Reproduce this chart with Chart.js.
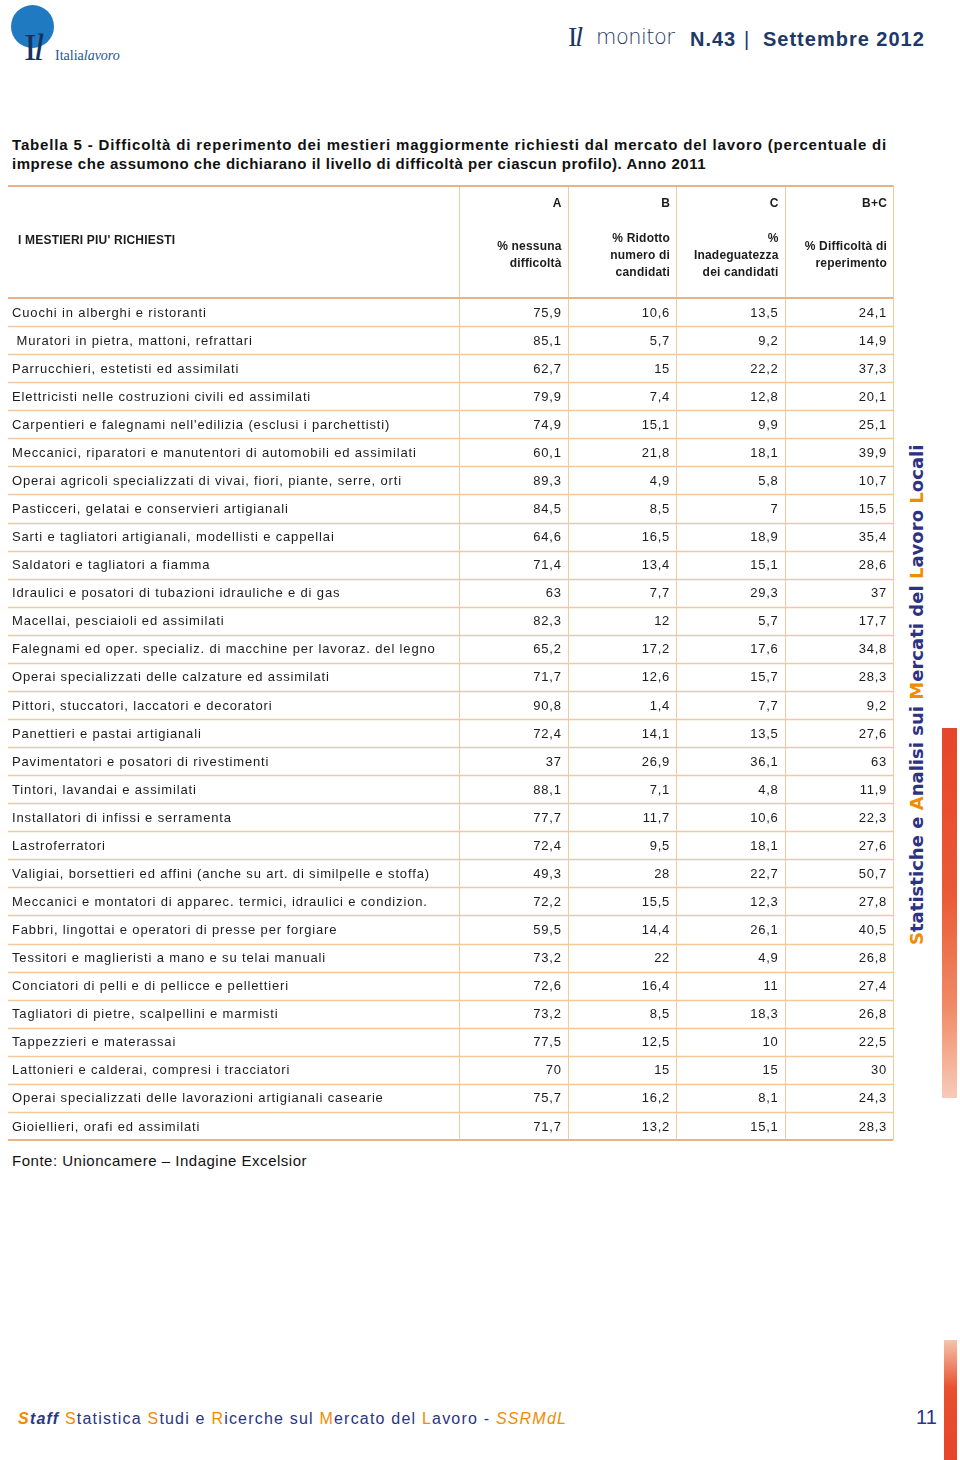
<!DOCTYPE html>
<html>
<head>
<meta charset="utf-8">
<script src="https://cdn.jsdelivr.net/npm/chart.js@4/dist/chart.umd.min.js"></script>
<style>
  body { margin: 0; background: #fff; font-family: "Liberation Sans", Arial, sans-serif; color: #222; }
  #page { position: relative; width: 960px; height: 1460px; overflow: hidden; }
  .abs { position: absolute; white-space: nowrap; }
  .fit { display: inline-block; }
  #tableBox { position: absolute; left: 0; top: 185px; width: 900px; height: 960px; }
</style>
</head>
<body>
<div id="page">
  <!-- logo -->
  <div class="abs" style="left:11px;top:5px;width:43px;height:43px;border-radius:50%;background:#1f7ac2;"></div>
  <div class="abs" style="left:24px;top:27px;font:38px 'Liberation Serif',serif;color:#17325f;letter-spacing:-3px;line-height:40px;">I<i>l</i></div>
  <div class="abs" style="left:55px;top:48px;font:14px 'Liberation Serif',serif;color:#24578f;">Italia<i>lavoro</i></div>

  <!-- header right -->
  <div class="abs" style="left:568px;top:22px;font:28px 'Liberation Serif',serif;color:#1d3564;letter-spacing:-2px;line-height:30px;">I<i>l</i></div>
  <div class="abs" style="left:596px;top:24px;font:22px 'DejaVu Sans',sans-serif;color:#1d3564;font-weight:300;letter-spacing:-0.5px;transform:scaleX(0.95);transform-origin:left;">monitor</div>
  <div class="abs" style="left:690px;top:28px;font:bold 20px 'Liberation Sans',Arial,sans-serif;color:#1e3868;letter-spacing:1px;">N.43</div>
  <div class="abs" style="left:744px;top:28px;font:20px 'Liberation Sans',Arial,sans-serif;color:#1e3868;">|</div>
  <div class="abs" style="left:763px;top:28px;font:bold 20px 'Liberation Sans',Arial,sans-serif;color:#1e3868;"><span class="fit" data-fit="162">Settembre 2012</span></div>

  <!-- title -->
  <div class="abs" style="left:12px;top:136px;font:bold 15px 'Liberation Sans',Arial,sans-serif;color:#111;"><span class="fit" data-fit="875">Tabella 5 - Difficoltà di reperimento dei mestieri maggiormente richiesti dal mercato del lavoro (percentuale di</span></div>
  <div class="abs" style="left:12px;top:155px;font:bold 15px 'Liberation Sans',Arial,sans-serif;color:#111;"><span class="fit" data-fit="694">imprese che assumono che dichiarano il livello di difficoltà per ciascun profilo). Anno 2011</span></div>

  <div id="tableBox"><canvas id="tbl"></canvas></div>

  <div class="abs" style="left:12px;top:1152px;font:15px 'Liberation Sans',Arial,sans-serif;color:#111;"><span class="fit" data-fit="295">Fonte: Unioncamere – Indagine Excelsior</span></div>

  <!-- side decoration -->
  <div class="abs" style="left:668px;top:683px;width:500px;height:24px;line-height:24px;text-align:center;transform:rotate(-90deg);font:bold 18px 'DejaVu Sans',sans-serif;color:#2d3282;"><span class="fit" data-fit="500"><span style="color:#f08c00">S</span>tatistiche e <span style="color:#f08c00">A</span>nalisi sui <span style="color:#f08c00">M</span>ercati del <span style="color:#f08c00">L</span>avoro <span style="color:#f08c00">L</span>ocali</span></div>
  <div class="abs" style="left:942px;top:728px;width:15px;height:370px;background:linear-gradient(#e6452a 0%, #ea5a36 45%, #f08a66 75%, #f7cbb8 100%);"></div>
  <div class="abs" style="left:944px;top:1340px;width:13px;height:120px;background:linear-gradient(#f6c4ad, #e8502f 40%, #e6452a);"></div>

  <!-- footer -->
  <div class="abs" style="left:18px;top:1410px;font:16px 'Liberation Sans',Arial,sans-serif;color:#2a3584;"><span class="fit" data-fit="549"><i><b><span style="color:#f08c00">S</span>taff</b></i> <span style="color:#f08c00">S</span>tatistica <span style="color:#f08c00">S</span>tudi e <span style="color:#f08c00">R</span>icerche sul <span style="color:#f08c00">M</span>ercato del <span style="color:#f08c00">L</span>avoro - <i style="color:#f08c00">SSRMdL</i></span></div>
  <div class="abs" style="left:916px;top:1406px;font:20px 'Liberation Sans',Arial,sans-serif;color:#2a3584;">11</div>
</div>

<script>
// rows of the table
const jobs = [
  'Cuochi in alberghi e ristoranti',
  ' Muratori in pietra, mattoni, refrattari',
  'Parrucchieri, estetisti ed assimilati',
  'Elettricisti nelle costruzioni civili ed assimilati',
  "Carpentieri e falegnami nell'edilizia (esclusi i parchettisti)",
  'Meccanici, riparatori e manutentori di automobili ed assimilati',
  'Operai agricoli specializzati di vivai, fiori, piante, serre, orti',
  'Pasticceri, gelatai e conservieri artigianali',
  'Sarti e tagliatori artigianali, modellisti e cappellai',
  'Saldatori e tagliatori a fiamma',
  'Idraulici e posatori di tubazioni idrauliche e di gas',
  'Macellai, pesciaioli ed assimilati',
  'Falegnami ed oper. specializ. di macchine per lavoraz. del legno',
  'Operai specializzati delle calzature ed assimilati',
  'Pittori, stuccatori, laccatori e decoratori',
  'Panettieri e pastai artigianali',
  'Pavimentatori e posatori di rivestimenti',
  'Tintori, lavandai e assimilati',
  'Installatori di infissi e serramenta',
  'Lastroferratori',
  'Valigiai, borsettieri ed affini (anche su art. di similpelle e stoffa)',
  'Meccanici e montatori di apparec. termici, idraulici e condizion.',
  'Fabbri, lingottai e operatori di presse per forgiare',
  'Tessitori e maglieristi a mano e su telai manuali',
  'Conciatori di pelli e di pellicce e pellettieri',
  'Tagliatori di pietre, scalpellini e marmisti',
  'Tappezzieri e materassai',
  'Lattonieri e calderai, compresi i tracciatori',
  'Operai specializzati delle lavorazioni artigianali casearie',
  'Gioiellieri, orafi ed assimilati'
];
const nessuna = [75.9, 85.1, 62.7, 79.9, 74.9, 60.1, 89.3, 84.5, 64.6, 71.4, 63, 82.3, 65.2, 71.7, 90.8, 72.4, 37, 88.1, 77.7, 72.4, 49.3, 72.2, 59.5, 73.2, 72.6, 73.2, 77.5, 70, 75.7, 71.7];
const ridotto = [10.6, 5.7, 15, 7.4, 15.1, 21.8, 4.9, 8.5, 16.5, 13.4, 7.7, 12, 17.2, 12.6, 1.4, 14.1, 26.9, 7.1, 11.7, 9.5, 28, 15.5, 14.4, 22, 16.4, 8.5, 12.5, 15, 16.2, 13.2];
const inadeguatezza = [13.5, 9.2, 22.2, 12.8, 9.9, 18.1, 5.8, 7, 18.9, 15.1, 29.3, 5.7, 17.6, 15.7, 7.7, 13.5, 36.1, 4.8, 10.6, 18.1, 22.7, 12.3, 26.1, 4.9, 11, 18.3, 10, 15, 8.1, 15.1];
const difficolta = [24.1, 14.9, 37.3, 20.1, 25.1, 39.9, 10.7, 15.5, 35.4, 28.6, 37, 17.7, 34.8, 28.3, 9.2, 27.6, 63, 11.9, 22.3, 27.6, 50.7, 27.8, 40.5, 26.8, 27.4, 26.8, 22.5, 30, 24.3, 28.3];

const colCodes = ['A', 'B', 'C', 'B+C'];
const colHeads = [
  ['% nessuna', 'difficoltà'],
  ['% Ridotto', 'numero di', 'candidati'],
  ['%', 'Inadeguatezza', 'dei candidati'],
  ['% Difficoltà di', 'reperimento']
];
const rowHeader = "I MESTIERI PIU' RICHIESTI";
const columns = [nessuna, ridotto, inadeguatezza, difficolta];

const LABEL_MIN = -4.16; // left edge of the label column, in column units
const LINE = '#f2c89c';
const LINE_STRONG = '#eab482';

function fmt(v) { return String(v).replace('.', ','); }

// stretch some html text to the width seen in the page (offsetWidth ignores rotation)
document.querySelectorAll('.fit').forEach(el => {
  const target = +el.dataset.fit;
  const w = el.offsetWidth;
  const n = el.textContent.length;
  el.style.letterSpacing = ((target - w) / n).toFixed(2) + 'px';
});

const tablePlugin = {
  id: 'tablePlugin',
  beforeDatasetsDraw(chart) {
    const { ctx, chartArea, scales: { x, y } } = chart;
    const left = x.getPixelForValue(LABEL_MIN);
    const right = x.getPixelForValue(colCodes.length);
    const top = chartArea.top - 113;
    const rowH = (chartArea.bottom - chartArea.top) / jobs.length;
    ctx.save();
    // row lines
    ctx.strokeStyle = LINE;
    ctx.lineWidth = 1.4;
    for (let i = 1; i < jobs.length; i++) {
      const py = Math.round(y.getPixelForValue(i) - rowH / 2) + 0.5;
      ctx.beginPath(); ctx.moveTo(left, py); ctx.lineTo(right, py); ctx.stroke();
    }
    // vertical separators
    ctx.lineWidth = 1;
    for (let k = 0; k <= colCodes.length; k++) {
      const px = Math.round(x.getPixelForValue(k)) + 0.5;
      ctx.beginPath(); ctx.moveTo(px, top); ctx.lineTo(px, chartArea.bottom); ctx.stroke();
    }
    // strong lines
    ctx.strokeStyle = LINE_STRONG;
    ctx.lineWidth = 2;
    [top + 1, chartArea.top, chartArea.bottom].forEach(py => {
      ctx.beginPath(); ctx.moveTo(left, py); ctx.lineTo(right, py); ctx.stroke();
    });
    ctx.restore();
  },
  afterDatasetsDraw(chart) {
    const { ctx, chartArea, scales: { x, y } } = chart;
    const left = x.getPixelForValue(LABEL_MIN);
    const top = chartArea.top - 113;
    ctx.save();
    ctx.fillStyle = '#1c1c1c';
    ctx.textBaseline = 'middle';

    // header
    ctx.font = 'bold 12px "Liberation Sans", Arial, sans-serif';
    ctx.letterSpacing = '0.2px';
    ctx.textAlign = 'left';
    ctx.fillText(rowHeader, left + 10, top + 56);
    ctx.textAlign = 'right';
    colCodes.forEach((code, k) => {
      const px = x.getPixelForValue(k + 1) - 6;
      ctx.fillText(code, px, top + 19);
      const lines = colHeads[k];
      const startY = lines.length === 3 ? top + 54 : top + 62;
      lines.forEach((t, j) => ctx.fillText(t, px, startY + j * 17));
    });

    // body
    ctx.font = '13px "Liberation Sans", Arial, sans-serif';
    ctx.letterSpacing = '0.85px';
    ctx.textAlign = 'left';
    jobs.forEach((job, i) => ctx.fillText(job, left + 4, y.getPixelForValue(i) + 1));
    ctx.letterSpacing = '0.75px';
    ctx.textAlign = 'right';
    chart.data.datasets.forEach((ds, k) => {
      chart.getDatasetMeta(k).data.forEach((pt, i) => {
        ctx.fillText(fmt(columns[k][i]), pt.x - 6, pt.y + 1);
      });
    });
    ctx.restore();
  }
};

new Chart(document.getElementById('tbl'), {
  type: 'scatter',
  data: {
    datasets: columns.map((vals, k) => ({
      label: colCodes[k],
      data: vals.map((v, i) => ({ x: k + 1, y: jobs[i] })),
      pointRadius: 0,
      pointHoverRadius: 0
    }))
  },
  options: {
    responsive: true,
    maintainAspectRatio: false,
    animation: false,
    layout: { padding: { left: 8, right: 7, top: 113, bottom: 5 } },
    scales: {
      x: { type: 'linear', min: LABEL_MIN, max: colCodes.length, display: false },
      y: { type: 'category', labels: jobs, offset: true, display: false }
    },
    plugins: { legend: { display: false }, tooltip: { enabled: false } }
  },
  plugins: [tablePlugin]
});
</script>
</body>
</html>
